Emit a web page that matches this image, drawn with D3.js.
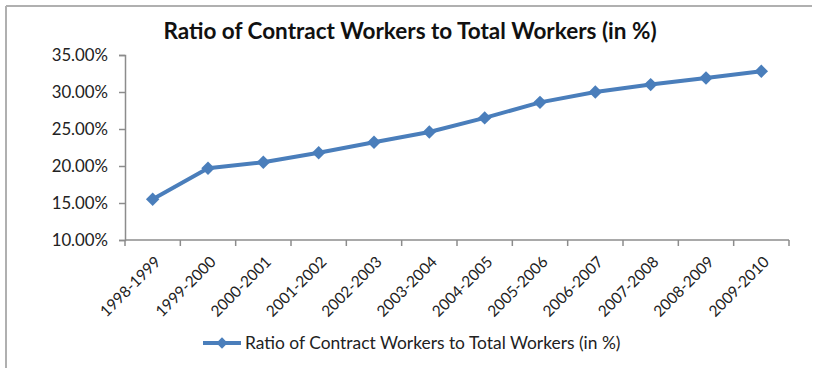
<!DOCTYPE html>
<html>
<head>
<meta charset="utf-8">
<script src="https://cdn.jsdelivr.net/npm/d3@7"></script>
<style>
  html, body { margin: 0; padding: 0; background: #fff; }
  svg { display: block; }
  text { font-family: Lato, "Open Sans", sans-serif; fill: #222; }
</style>
</head>
<body>
<svg id="chart" width="813" height="368"></svg>
<script>
const title = "Ratio of Contract Workers to Total Workers (in %)";
const seriesName = "Ratio of Contract Workers to Total Workers (in %)";
const years = ["1998-1999", "1999-2000", "2000-2001", "2001-2002", "2002-2003", "2003-2004",
               "2004-2005", "2005-2006", "2006-2007", "2007-2008", "2008-2009", "2009-2010"];
const ratios = [15.5, 19.7, 20.5, 21.8, 23.2, 24.6, 26.5, 28.6, 30.0, 31.0, 31.9, 32.8];
const yTicks = [10, 15, 20, 25, 30, 35];

const blue = "#4a7ebb";
const axisGrey = "#8c8c8c";
const svg = d3.select("#chart");

// frame edges
svg.append("line").attr("x1", 6).attr("x2", 812).attr("y1", 6).attr("y2", 6)
  .attr("stroke", "#b0b0b0").attr("stroke-width", 2);
svg.append("line").attr("x1", 6).attr("x2", 6).attr("y1", 6).attr("y2", 368)
  .attr("stroke", "#b0b0b0").attr("stroke-width", 2);

const plotLeft = 125, plotRight = 789, plotTop = 55, plotBottom = 240;
const x = d3.scaleBand().domain(years).range([plotLeft, plotRight]);
const y = d3.scaleLinear().domain([10, 35]).range([plotBottom, plotTop]);

svg.append("text").attr("x", 410).attr("y", 39).attr("text-anchor", "middle")
  .style("font-size", "22.5px").style("font-weight", "bold").style("fill", "#111")
  .text(title);

// y axis
const yAxis = svg.append("g").attr("transform", `translate(${plotLeft},0)`)
  .call(d3.axisLeft(y).tickValues(yTicks).tickSize(6).tickPadding(11)
    .tickFormat(d => d.toFixed(2) + "%"));
yAxis.attr("font-family", null).attr("font-size", null);
yAxis.select(".domain").attr("stroke", axisGrey).attr("stroke-width", 1.5);
yAxis.selectAll(".tick line").attr("stroke", axisGrey).attr("stroke-width", 1.5);
yAxis.selectAll(".tick text").style("font-size", "16.8px").style("fill", "#222");

// x axis: ticks sit on category boundaries
const xAxis = svg.append("g").attr("transform", `translate(0,${plotBottom})`);
xAxis.append("line").attr("x1", plotLeft).attr("x2", plotRight).attr("y1", 0).attr("y2", 0)
  .attr("stroke", axisGrey).attr("stroke-width", 1.5);
const bounds = years.map(d => x(d)).concat([plotRight]);
xAxis.selectAll("line.tk").data(bounds).enter().append("line").attr("class", "tk")
  .attr("x1", d => d).attr("x2", d => d).attr("y1", 0).attr("y2", 6)
  .attr("stroke", axisGrey).attr("stroke-width", 1.5);
xAxis.selectAll("text.lbl").data(years).enter().append("text").attr("class", "lbl")
  .attr("transform", d => `translate(${x(d) + x.bandwidth() / 2 + 5},${19}) rotate(-45)`)
  .attr("text-anchor", "end").attr("dy", "0.35em")
  .style("font-size", "15.5px").text(d => d);

// series line and markers
const cx = d => x(d) + x.bandwidth() / 2;
const line = d3.line().x((d, i) => cx(years[i])).y(d => y(d));
svg.append("path").datum(ratios).attr("d", line).attr("fill", "none")
  .attr("stroke", blue).attr("stroke-width", 4).attr("stroke-linejoin", "round");
const marker = d3.symbol().type(d3.symbolSquare).size(90);
svg.selectAll("path.pt").data(ratios).enter().append("path").attr("class", "pt")
  .attr("d", marker)
  .attr("transform", (d, i) => `translate(${cx(years[i])},${y(d)}) rotate(45)`)
  .attr("fill", blue);

// legend
const lg = svg.append("g").attr("transform", "translate(203,343)");
lg.append("line").attr("x1", 0).attr("x2", 38).attr("stroke", blue).attr("stroke-width", 4);
lg.append("path").attr("d", d3.symbol().type(d3.symbolSquare).size(64)).attr("transform", "translate(19,0) rotate(45)")
  .attr("fill", blue);
lg.append("text").attr("x", 42).attr("dy", "0.35em").style("font-size", "17.4px").text(seriesName);
</script>
</body>
</html>
